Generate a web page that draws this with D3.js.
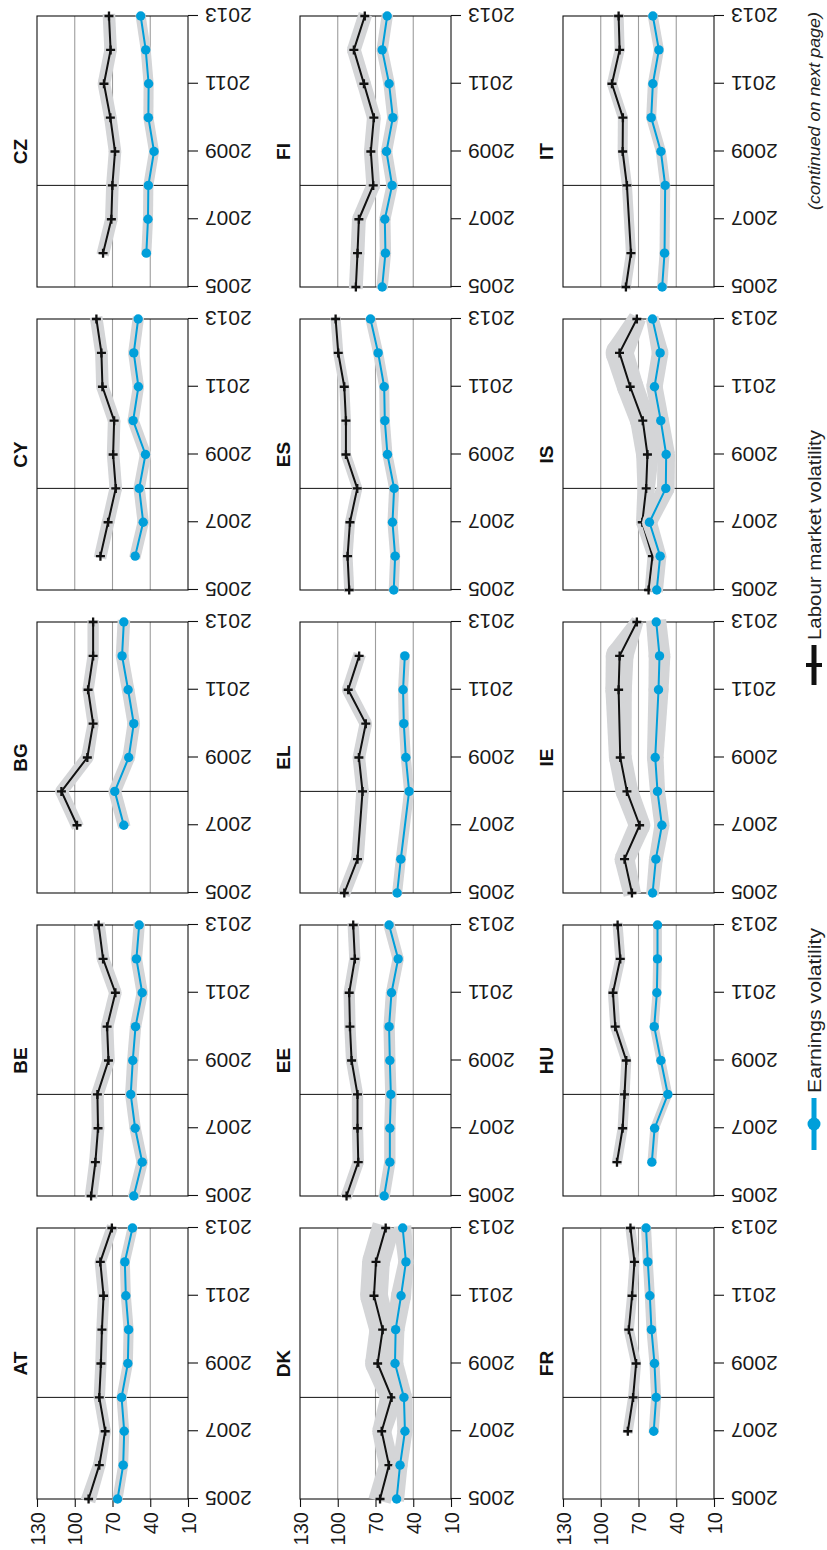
<!DOCTYPE html>
<html>
<head>
<meta charset="utf-8">
<script src="https://cdn.jsdelivr.net/npm/d3@7"></script>
<style>
  body { margin: 0; background: #fff; }
  svg { display: block; }
  text { font-family: "Liberation Sans", Arial, Helvetica, sans-serif; }
</style>
</head>
<body>
<svg id="chart" width="827" height="1550"></svg>
<script>
// ---- data -------------------------------------------------------------
const years = [2005, 2006, 2007, 2008, 2009, 2010, 2011, 2012, 2013];
const yearTicks = [2005, 2007, 2009, 2011, 2013];
const valueTicks = [130, 100, 70, 40, 10];
const gridValues = [100, 70, 40];
const crisisYear = 2008;

const countries = ["AT", "BE", "BG", "CY", "CZ",
                   "DK", "EE", "EL", "ES", "FI",
                   "FR", "HU", "IE", "IS", "IT"];

// Labour market volatility, 2005..2013 (null = no observation)
const labour = [
  [89, 80.5, 75.8, 80.5, 79.2, 78.4, 77.1, 79.7, 70.5],      // AT
  [87, 83.6, 81.5, 82, 73.2, 74.3, 67.7, 77.5, 81],          // BE
  [null, null, 98.2, 110.6, 90, 85.4, 89.4, 85.4, 85.4],     // BG
  [null, 79.6, 73.5, 67.4, 69.5, 68.7, 78, 78.8, 82.8],      // CY
  [null, 77.5, 70.9, 70.1, 68, 71.7, 76.8, 71.5, 72.8],      // CZ
  [66.4, 59.3, 65.1, 57.2, 68.3, 64.3, 71.2, 69.6, 61.9],    // DK
  [93, 83.7, 84.3, 84.3, 89, 90.3, 90.9, 86.4, 87.7],        // EE
  [94.8, 84.3, null, 80.3, 83.2, 77.7, 91.7, 83, null],      // EL
  [90.9, 92.2, 90.3, 84.5, 93.5, 93.5, 94.8, 99.6, 101.7],   // ES
  [85.6, 84.3, 83.2, 71.8, 73.7, 71.3, 79.2, 87.2, 78.5],    // FI
  [null, null, 78.5, 74.3, 71.9, 77.7, 75.1, 73.2, 76.4],    // FR
  [null, 87.1, 82.6, 81.1, 79.7, 88.5, 90.3, 84.5, 86.6],    // HU
  [75.2, 81.1, 69.1, 79.2, 84.5, null, 85.8, 85, 71.3],      // IE
  [62, 58.9, 67, 63.9, 62.9, 66.6, 76.6, 85.1, 71.3],        // IS
  [80, 76, null, 79.2, 82.6, 82.4, 91.1, 85, 85.8]           // IT
];

// Earnings volatility, 2005..2013
const earnings = [
  [66, 61.5, 60.7, 62.8, 57.8, 57.2, 59.4, 60.2, 54.1],      // AT
  [53.1, 46.4, 52, 55.5, 53.9, 51.7, 46.4, 51, 48.8],        // BE
  [null, null, 61, 68.2, 57.1, 53.1, 57.6, 62.4, 61],        // BG
  [null, 52, 45.6, 48.8, 43.8, 53.6, 49.4, 53.1, 49.6],      // CY
  [null, 43.1, 41.8, 41.5, 37, 41.5, 41.3, 43.6, 47.6],      // CZ
  [53.2, 50.5, 46.6, 47.4, 54.5, 54, 49.7, 45.8, 48.4],      // DK
  [63.1, 58.6, 58.6, 57.8, 58.6, 59.2, 57.3, 52, 59.2],      // EE
  [52.8, 49.9, null, 43.3, 45.9, 47.5, 48.1, 46.7, null],    // EL
  [55.5, 54.4, 56.5, 55.2, 60.5, 62.6, 63.1, 67.9, 74],      // ES
  [64.7, 62.1, 62.6, 56.8, 61.3, 56.2, 59.2, 64.7, 60.7],    // FI
  [null, null, 57.9, 56, 57.3, 59.7, 61, 62.6, 64],          // FR
  [null, 59.4, 57.2, 46.7, 52.2, 57.5, 55.4, 54.9, 54.9],    // HU
  [58.8, 56.2, 51.4, 54.9, 56.7, null, 54.1, 53.3, 55.9],    // IE
  [55.5, 52.8, 61.3, 48.3, 48, 52.3, 57.3, 52.8, 58.9],      // IS
  [51.2, 49.3, null, 48.8, 52.2, 59.9, 58.6, 53.8, 58.6]     // IT
];

// Half-width of the confidence band around each series (value units)
const labourBand = [
  [6, 5, 4.5, 4.5, 4.5, 4.5, 4.5, 4.5, 4.5],
  [5, 5, 5, 5, 5, 5, 5, 5, 5],
  [5, 5, 5, 5, 5, 4.5, 4.5, 4.5, 4.5],
  [5, 5, 5, 5, 5, 5, 5, 5, 5],
  [5, 5, 5, 5, 5, 5, 5, 5, 5],
  [9, 8, 7.5, 9, 10, 10.5, 11, 11, 11],
  [4.5, 4.5, 4.5, 4.5, 4.5, 4.5, 4.5, 4.5, 4.5],
  [5, 5, 5, 5, 5, 5, 5, 5, 5],
  [4, 4, 4, 4, 4, 4, 4, 4, 4],
  [5.5, 5.5, 5.5, 5.5, 5.5, 5.5, 5.5, 5.5, 5.5],
  [4, 4, 4, 4, 4, 4, 4, 4, 4],
  [4, 4, 4, 4, 4, 4, 4, 4, 4],
  [7, 8, 8.5, 9, 9, 10, 10.5, 11, 5],
  [3, 4, 5, 7, 9, 10, 10.5, 11, 7],
  [4, 4, 4, 4, 4, 4, 4, 4, 4]
];
const earningsBand = [
  [4, 4, 4, 4, 4, 4, 4, 4, 4],
  [4.5, 4.5, 4.5, 4.5, 4.5, 4.5, 4.5, 4.5, 4.5],
  [5, 5, 5, 5, 5, 5, 5, 5, 5],
  [4.5, 4.5, 4.5, 4.5, 4.5, 4.5, 4.5, 4.5, 4.5],
  [4, 4, 4, 4, 4, 4, 4, 4, 4],
  [6, 6, 6, 6.5, 6.5, 7, 8, 6, 7],
  [4.5, 4.5, 4.5, 4.5, 4.5, 4.5, 4.5, 4.5, 4.5],
  [4, 4, 4, 4, 4, 4, 4, 4, 4],
  [4, 4, 4, 4, 4, 4, 4, 4, 4],
  [4.5, 4.5, 4.5, 4.5, 4.5, 4.5, 4.5, 4.5, 4.5],
  [4, 4, 4, 4, 4, 4, 4, 4, 4],
  [3.5, 3.5, 3.5, 3.5, 3.5, 3.5, 3.5, 3.5, 3.5],
  [5, 5.5, 6, 6, 6.6, 7, 8, 8.6, 8],
  [5, 5, 6, 7, 7, 6.5, 6.5, 6.6, 5],
  [4, 4, 4, 4, 4, 4, 4, 4, 4]
];

const legendLabels = ["Earnings volatility", "Labour market volatility"];
const footnote = "(continued on next page)";

// ---- style ------------------------------------------------------------
const BLUE = "#009fda";
const BLACK = "#111111";
const BAND = "#d4d5d7";
const GRID = "#9d9d9d";

// ---- layout (drawn in a landscape frame, then turned to portrait) ------
const PAGE_LONG = 1550;
const marginLeft = 51, marginTop = 37;
const panelW = 271, panelH = 151;
const colStep = 303, rowStep = 263;

const svg = d3.select("#chart");
const page = svg.append("g")
  .attr("transform", `translate(0,${PAGE_LONG}) rotate(-90)`);

function drawBand(sel, pts, fill) {
  const grp = sel.append("g").attr("fill", fill);
  const ext = 2;
  for (let k = 0; k < pts.length - 1; k++) {
    const a = pts[k], b = pts[k + 1];
    const dx = b.x - a.x, dy = b.y - a.y, L = Math.hypot(dx, dy);
    const ux = dx / L, uy = dy / L, nx = -uy, ny = ux;
    const ax = a.x - (k === 0 ? ux * ext : 0), ay = a.y - (k === 0 ? uy * ext : 0);
    const last = k === pts.length - 2;
    const bx = b.x + (last ? ux * ext : 0), by = b.y + (last ? uy * ext : 0);
    const poly = [
      [ax + nx * a.r, ay + ny * a.r],
      [bx + nx * b.r, by + ny * b.r],
      [bx - nx * b.r, by - ny * b.r],
      [ax - nx * a.r, ay - ny * a.r]
    ];
    grp.append("path").attr("d", "M" + poly.join("L") + "Z");
  }
  pts.slice(1, -1).forEach(p => {
    grp.append("circle").attr("cx", p.x).attr("cy", p.y).attr("r", p.r);
  });
}

countries.forEach((code, i) => {
  const col = i % 5, row = Math.floor(i / 5);
  const x0 = marginLeft + col * colStep, y0 = marginTop + row * rowStep;

  const x = d3.scaleLinear().domain([2005, 2013]).range([x0, x0 + panelW]);
  const y = d3.scaleLinear().domain([10, 130]).range([y0 + panelH, y0]);
  const unit = Math.abs(y(0) - y(1));

  const panel = page.append("g").attr("class", "panel");

  // horizontal grid
  panel.selectAll("line.grid").data(gridValues).join("line")
    .attr("class", "grid")
    .attr("x1", x0).attr("x2", x0 + panelW)
    .attr("y1", d => y(d)).attr("y2", d => y(d))
    .attr("stroke", GRID).attr("stroke-width", 1.1);

  // 2008 marker line
  panel.append("line")
    .attr("x1", x(crisisYear)).attr("x2", x(crisisYear))
    .attr("y1", y0).attr("y2", y0 + panelH)
    .attr("stroke", BLACK).attr("stroke-width", 1);

  // frame
  panel.append("rect")
    .attr("x", x0).attr("y", y0).attr("width", panelW).attr("height", panelH)
    .attr("fill", "none").attr("stroke", BLACK).attr("stroke-width", 1.1);

  // year axis
  const xAxis = panel.append("g")
    .attr("transform", `translate(0,${y0 + panelH})`)
    .call(d3.axisBottom(x).tickValues(yearTicks).tickFormat(d3.format("d"))
      .tickSize(10).tickSizeOuter(0));
  xAxis.select(".domain").remove();
  xAxis.selectAll(".tick line").attr("stroke", BLACK).attr("stroke-width", 1.1);
  xAxis.selectAll(".tick text")
    .attr("transform", "translate(0,17) rotate(-90)")
    .attr("x", 0).attr("y", 0).attr("dy", "0.35em")
    .attr("text-anchor", "end")
    .attr("fill", "#1a1a1a")
    .style("font-size", "21px");

  // value axis on the first panel of each row
  if (col === 0) {
    const yAxis = panel.append("g")
      .attr("transform", `translate(${x0},0)`)
      .call(d3.axisLeft(y).tickValues(valueTicks).tickSize(8).tickPadding(5).tickSizeOuter(0));
    yAxis.select(".domain").remove();
    yAxis.selectAll(".tick line").attr("stroke", BLACK).attr("stroke-width", 1.1);
    yAxis.selectAll(".tick text")
      .attr("fill", "#1a1a1a")
      .attr("dy", "0.36em")
      .style("font-size", "20px");
  }

  // title
  panel.append("text")
    .attr("x", x0 + panelW / 2).attr("y", y0 - 10)
    .attr("text-anchor", "middle")
    .style("font-size", "19px").style("font-weight", "bold")
    .attr("fill", "#111")
    .text(code);

  const series = [
    { vals: labour[i], band: labourBand[i], color: BLACK, kind: "plus" },
    { vals: earnings[i], band: earningsBand[i], color: BLUE, kind: "dot" }
  ];

  series.forEach(s => {
    const pts = years.map((yr, k) => ({ year: yr, v: s.vals[k], hw: s.band[k] }))
      .filter(d => d.v != null);
    drawBand(panel, pts.map(d => ({ x: x(d.year), y: y(d.v), r: d.hw * unit })), BAND);

    panel.append("path")
      .datum(pts)
      .attr("fill", "none")
      .attr("stroke", s.color)
      .attr("stroke-width", 2)
      .attr("stroke-linejoin", "round")
      .attr("d", d3.line().x(d => x(d.year)).y(d => y(d.v)));

    if (s.kind === "plus") {
      panel.selectAll(null).data(pts).join("path")
        .attr("transform", d => `translate(${x(d.year)},${y(d.v)})`)
        .attr("d", "M-4.5,0H4.5M0,-4.5V4.5")
        .attr("stroke", s.color).attr("stroke-width", 2.3)
        .attr("fill", "none");
    } else {
      panel.selectAll(null).data(pts).join("circle")
        .attr("cx", d => x(d.year)).attr("cy", d => y(d.v))
        .attr("r", 4.7)
        .attr("fill", s.color);
    }
  });
});

// ---- legend ------------------------------------------------------------
const legend = page.append("g").attr("class", "legend");
const legY = 814;

// earnings volatility
legend.append("line")
  .attr("x1", 400).attr("x2", 452).attr("y1", legY).attr("y2", legY)
  .attr("stroke", BLUE).attr("stroke-width", 5);
legend.append("circle")
  .attr("cx", 426).attr("cy", legY).attr("r", 6.5).attr("fill", BLUE);
legend.append("text")
  .attr("x", 457).attr("y", legY + 7)
  .attr("textLength", 165).attr("lengthAdjust", "spacingAndGlyphs")
  .style("font-size", "19px").attr("fill", "#222")
  .text(legendLabels[0]);

// labour market volatility
legend.append("line")
  .attr("x1", 865).attr("x2", 905).attr("y1", legY).attr("y2", legY)
  .attr("stroke", BLACK).attr("stroke-width", 5);
legend.append("line")
  .attr("x1", 885).attr("x2", 885).attr("y1", legY - 8).attr("y2", legY + 8)
  .attr("stroke", BLACK).attr("stroke-width", 4);
legend.append("text")
  .attr("x", 910).attr("y", legY + 7)
  .attr("textLength", 210).attr("lengthAdjust", "spacingAndGlyphs")
  .style("font-size", "19px").attr("fill", "#222")
  .text(legendLabels[1]);

// footnote
legend.append("text")
  .attr("x", 1538).attr("y", legY + 6)
  .attr("text-anchor", "end")
  .attr("textLength", 198).attr("lengthAdjust", "spacingAndGlyphs")
  .style("font-size", "17px").style("font-style", "italic").attr("fill", "#222")
  .text(footnote);
</script>
</body>
</html>
